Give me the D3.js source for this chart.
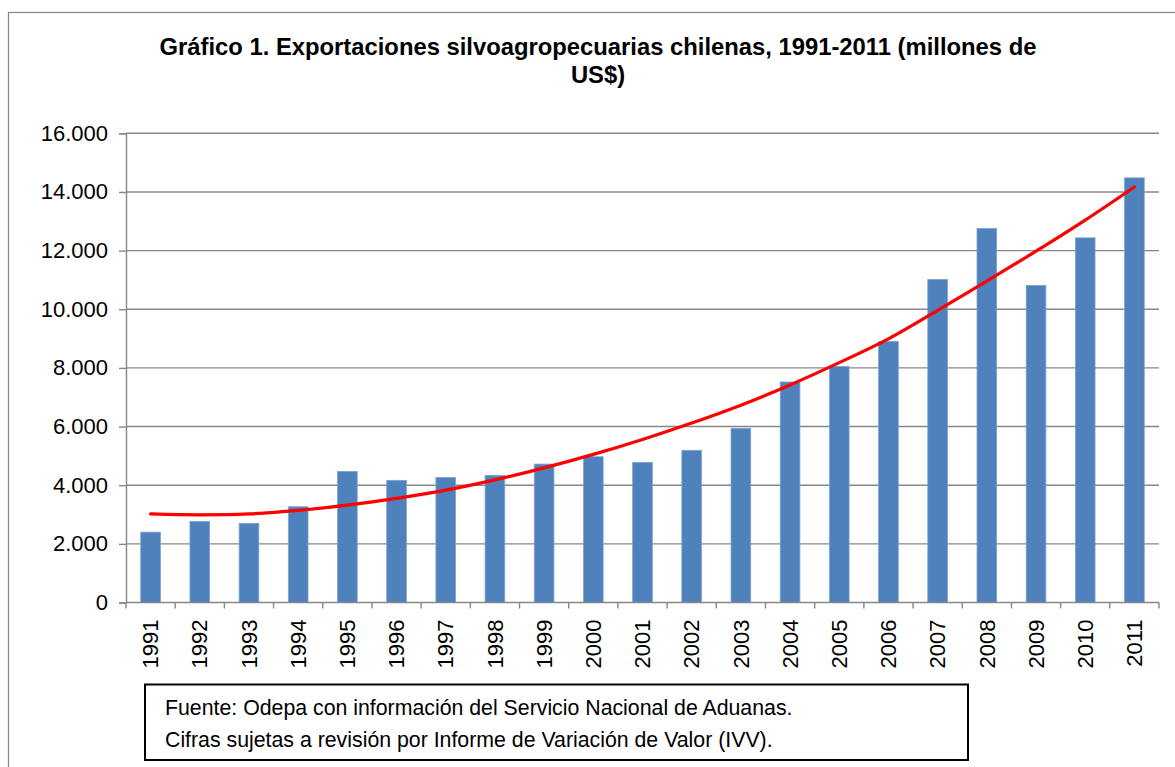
<!DOCTYPE html>
<html>
<head>
<meta charset="utf-8">
<script src="https://cdn.jsdelivr.net/npm/d3@7"></script>
<style>
  body { margin: 0; background: #fff; }
  text { font-family: "Liberation Sans", Arial, sans-serif; fill: #000; }
</style>
</head>
<body>
<div id="chart-area"></div>
<script>
// data
var years = ["1991","1992","1993","1994","1995","1996","1997","1998","1999","2000",
             "2001","2002","2003","2004","2005","2006","2007","2008","2009","2010","2011"];
var exports = [2400, 2765, 2700, 3265, 4470, 4165, 4265, 4335, 4720, 4970,
               4780, 5190, 5940, 7520, 8050, 8900, 11015, 12755, 10815, 12435, 14480];
// polynomial trend line as drawn in the picture
var trend = [3020, 2990, 3020, 3140, 3320, 3550, 3830, 4180, 4590, 5050,
             5560, 6120, 6730, 7420, 8180, 8990, 9960, 10960, 11980, 13040, 14170];
var yTicks = [0, 2000, 4000, 6000, 8000, 10000, 12000, 14000, 16000];
var titleLines = ["Gráfico 1. Exportaciones silvoagropecuarias chilenas, 1991-2011 (millones de", "US$)"];
var noteLines = ["Fuente: Odepa con información del Servicio Nacional de Aduanas.",
                 "Cifras sujetas a revisión por Informe de Variación de Valor (IVV)."];

var W = 1175, H = 767;
var plot = {left: 126, right: 1159, top: 133.3, bottom: 602.5};

var svg = d3.select("#chart-area")
    .append("svg")
    .attr("width", W)
    .attr("height", H);

var esLocale = d3.formatLocale({decimal: ",", thousands: ".", grouping: [3], currency: ["$", ""]});
var fmt = esLocale.format(",d");

// outer frame
svg.append("rect")
    .attr("x", 8.5).attr("y", 12.5)
    .attr("width", W + 20).attr("height", H + 20)
    .attr("fill", "none")
    .attr("stroke", "#8a8a8a")
    .attr("stroke-width", 1.3);

// title
svg.append("g").selectAll("text")
    .data(titleLines)
    .enter()
    .append("text")
    .attr("x", 598)
    .attr("y", (d, i) => 55 + i * 28)
    .attr("text-anchor", "middle")
    .attr("font-size", "23.8px")
    .attr("font-weight", "bold")
    .text(d => d);

var x = d3.scaleBand()
    .domain(years)
    .range([plot.left, plot.right])
    .paddingInner(0.6)
    .paddingOuter(0.3);

var y = d3.scaleLinear()
    .domain([0, 16000])
    .range([plot.bottom, plot.top]);

// gridlines
svg.append("g").selectAll("line")
    .data(yTicks.slice(1))
    .enter()
    .append("line")
    .attr("x1", plot.left).attr("x2", plot.right)
    .attr("y1", d => y(d)).attr("y2", d => y(d))
    .attr("stroke", "#878787")
    .attr("stroke-width", 1.4);

// y axis
var yAxis = svg.append("g")
    .attr("transform", "translate(" + plot.left + ",0)")
    .call(d3.axisLeft(y).tickValues(yTicks).tickFormat(fmt).tickSize(7).tickPadding(11));
yAxis.select(".domain").attr("stroke", "#878787").attr("stroke-width", 1.4);
yAxis.selectAll(".tick line").attr("stroke", "#878787").attr("stroke-width", 1.4);
yAxis.selectAll("text")
    .attr("font-family", "Liberation Sans, Arial, sans-serif")
    .attr("font-size", "22px")
    .attr("fill", "#000");

// bars
svg.append("g").selectAll("rect")
    .data(exports)
    .enter()
    .append("rect")
    .attr("x", (d, i) => x(years[i]))
    .attr("y", d => y(d))
    .attr("width", x.bandwidth())
    .attr("height", d => y(0) - y(d))
    .attr("fill", "#4f81bd")
    .attr("stroke", "#7ea2cf")
    .attr("stroke-width", 0.8);

// x axis baseline and category ticks
var half = (x.step() - x.bandwidth()) / 2;
var bounds = years.map(d => x(d) - half).concat([plot.right]);
svg.append("line")
    .attr("x1", plot.left).attr("x2", plot.right)
    .attr("y1", y(0)).attr("y2", y(0))
    .attr("stroke", "#878787")
    .attr("stroke-width", 1.4);
svg.append("g").selectAll("line")
    .data(bounds)
    .enter()
    .append("line")
    .attr("x1", d => d).attr("x2", d => d)
    .attr("y1", y(0)).attr("y2", y(0) + 6)
    .attr("stroke", "#878787")
    .attr("stroke-width", 1.4);

svg.append("g").selectAll("text")
    .data(years)
    .enter()
    .append("text")
    .attr("transform", d => "translate(" + (x(d) + x.bandwidth() / 2) + "," + (y(0) + 17) + ") rotate(-90)")
    .attr("text-anchor", "end")
    .attr("dy", "0.35em")
    .attr("font-size", "22px")
    .text(d => d);

// trend line
var line = d3.line()
    .x((d, i) => x(years[i]) + x.bandwidth() / 2)
    .y(d => y(d))
    .curve(d3.curveCatmullRom);

svg.append("path")
    .datum(trend)
    .attr("d", line)
    .attr("fill", "none")
    .attr("stroke", "#ff0000")
    .attr("stroke-width", 3.2)
    .attr("stroke-linecap", "round");

// source note box
svg.append("rect")
    .attr("x", 145).attr("y", 684.5)
    .attr("width", 823).attr("height", 75.5)
    .attr("fill", "#fff")
    .attr("stroke", "#000")
    .attr("stroke-width", 2);

svg.append("g").selectAll("text")
    .data(noteLines)
    .enter()
    .append("text")
    .attr("x", 165)
    .attr("y", (d, i) => 715 + i * 32)
    .attr("font-size", "21.3px")
    .text(d => d);
</script>
</body>
</html>
